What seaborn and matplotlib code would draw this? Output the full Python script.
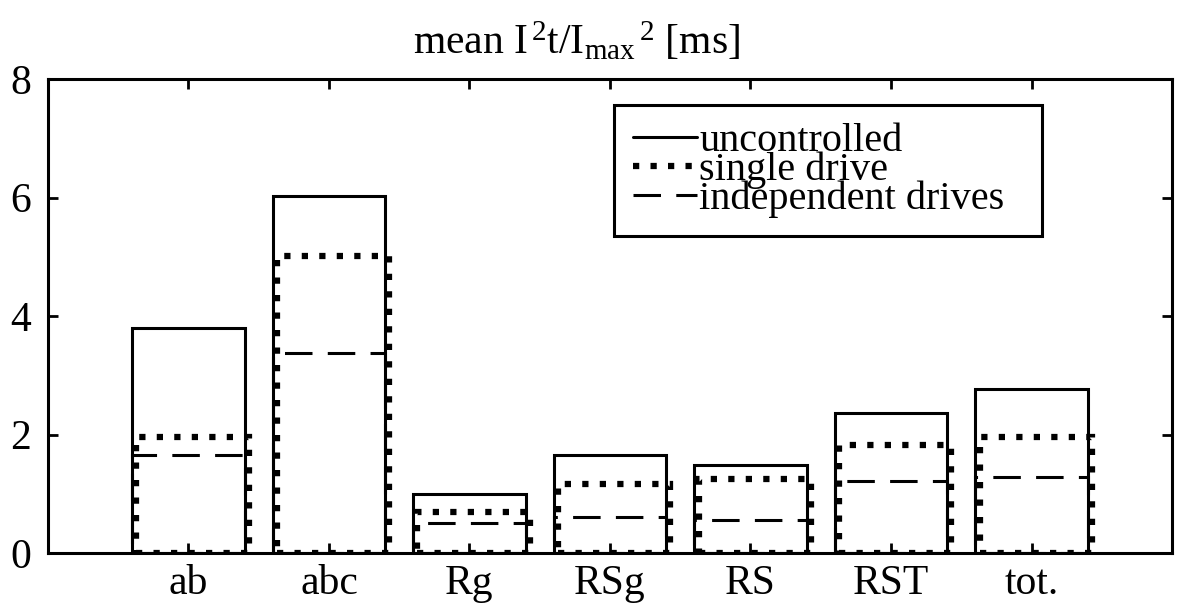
import matplotlib
matplotlib.use("Agg")
import pandas as pd
import matplotlib.pyplot as plt
from matplotlib.lines import Line2D
import seaborn as sns

## data
categories = ["ab", "abc", "Rg", "RSg", "RS", "RST", "tot."]
uncontrolled = [3.80, 6.03, 1.00, 1.65, 1.48, 2.37, 2.76]
single_drive = [1.96, 5.02, 0.70, 1.17, 1.25, 1.82, 1.96]
independent_drives = [1.65, 3.37, 0.51, 0.60, 0.55, 1.22, 1.28]
series_names = ["uncontrolled", "single drive", "independent drives"]
y_ticks = [0, 2, 4, 6, 8]

df = pd.DataFrame({
    "category": categories * 3,
    "value": uncontrolled + single_drive + independent_drives,
    "series": [s for s in series_names for _ in categories],
})

## style
sns.set_theme(style="ticks")
plt.rcParams["font.family"] = ["Liberation Serif", "DejaVu Serif"]
plt.rcParams["mathtext.fontset"] = "custom"
plt.rcParams["mathtext.rm"] = "Liberation Serif"
plt.rcParams["mathtext.it"] = "Liberation Serif:italic"
plt.rcParams["axes.linewidth"] = 2.2
plt.rcParams["text.color"] = "black"
plt.rcParams["xtick.color"] = "black"
plt.rcParams["ytick.color"] = "black"
plt.rcParams["axes.edgecolor"] = "black"

fs = 30
styles = {
    "uncontrolled": dict(linestyle="-", linewidth=2.2),
    "independent drives": dict(linestyle=(0, (9, 5)), linewidth=2.2),
    "single drive": dict(linestyle=(0, (1, 1.8)), linewidth=4.5),
}
shift = {"uncontrolled": 0.0, "independent drives": 0.0, "single drive": 0.03}

fig = plt.figure(figsize=(11.81, 6.10), dpi=100)
ax = fig.add_axes([0.0406, 0.0934, 0.9518, 0.7771])

for name in ["uncontrolled", "independent drives", "single drive"]:
    n0 = len(ax.patches)
    sub = df[df["series"] == name]
    sns.barplot(data=sub, x="category", y="value", order=categories, fill=False,
                color="black", width=0.8, errorbar=None, ax=ax,
                linewidth=styles[name]["linewidth"],
                linestyle=styles[name]["linestyle"])
    for p in ax.patches[n0:]:
        p.set_x(p.get_x() + shift[name])
        p.set_edgecolor("black")

ax.set_xlim(-1, 7)
ax.set_ylim(0, 8)
ax.set_yticks(y_ticks)
ax.set_xlabel("")
ax.set_ylabel("")
for s in ax.spines.values():
    s.set_visible(True)
    s.set_linewidth(2.2)
    s.set_color("black")
    s.set_zorder(5)
ax.tick_params(direction="in", top=True, right=True, length=7, width=2,
               labelsize=fs, colors="black")
ax.tick_params(axis="y", pad=12)
ax.tick_params(axis="x", pad=8)

ax.set_title(r"mean I$^{\,2}$t/I$_{\mathrm{max}}$$^{\,2}$ [ms]", fontsize=fs,
             x=0.47, pad=18)

handles = [Line2D([], [], color="black", **styles[n]) for n in series_names]
leg = ax.legend(handles, series_names, loc="upper left",
                bbox_to_anchor=(0.504, 0.671, 0.38, 0.274), mode="expand",
                fontsize=29, handlelength=1.6, handletextpad=0.05,
                labelspacing=-0.22, borderpad=0.45, borderaxespad=0,
                frameon=True, fancybox=False, framealpha=1)
leg.get_frame().set_edgecolor("black")
leg.get_frame().set_linewidth(2.2)

fig.savefig("out.png", dpi=100)
